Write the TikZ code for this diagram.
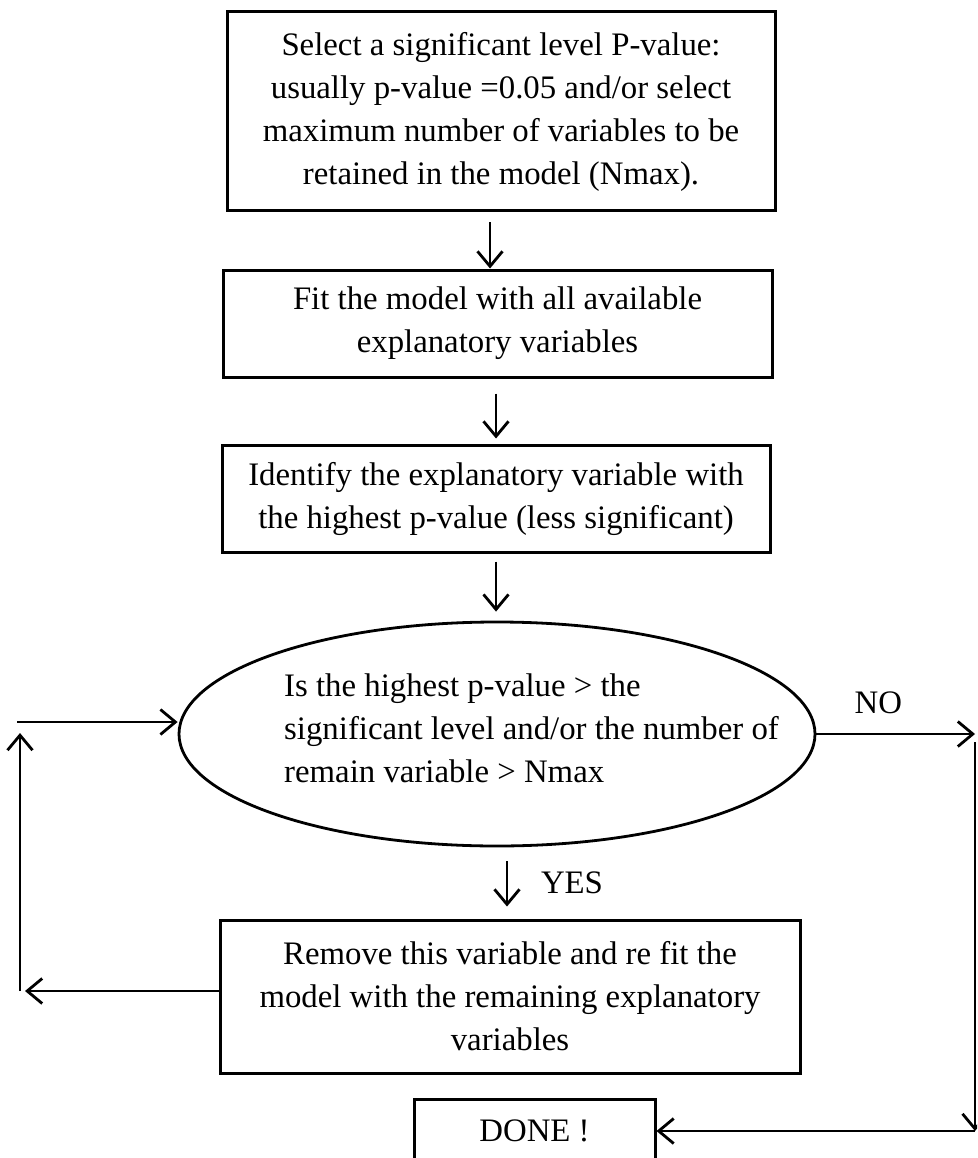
\documentclass[tikz,border=0pt]{standalone}
\usepackage{fontspec}
\setmainfont{Liberation Serif}
\usetikzlibrary{arrows.meta,shapes.geometric}
\tikzset{
  blk/.style={draw,line width=3pt,inner sep=0pt,align=center},
  arr/.style={line width=2.8pt,-{Straight Barb[length=15pt,width=25pt,line width=2.8pt]}},
}
\begin{document}
\begin{tikzpicture}[x=1pt,y=-1pt,font=\fontsize{32.8}{43}\selectfont]
  \useasboundingbox (0,0) rectangle (977,1158);
  \clip (0,0) rectangle (977,1158);

  \node[blk,minimum width=548pt,minimum height=199pt] (b1) at (501,111.5)
    {Select a significant level P-value:\\ usually p-value =0.05 and/or select\\
     maximum number of variables to be\\ retained in the model (Nmax).};
  \node[blk,minimum width=549pt,minimum height=107pt] (b2) at (497.5,323.5)
    {Fit the model with all available\\ explanatory variables};
  \node[blk,minimum width=548pt,minimum height=107pt] (b3) at (496,498.5)
    {Identify the explanatory variable with\\ the highest p-value (less significant)};
  \node[ellipse,draw,line width=2.8pt,inner sep=0pt,minimum width=636pt,minimum height=224pt] (ell) at (497,734) {};
  \node[align=left,inner sep=0pt] (elltext) at (531.5,728)
    {Is the highest p-value > the\\ significant level and/or the number of\\ remain variable > Nmax};
  \node[blk,minimum width=580pt,minimum height=153pt] (b4) at (510,996.5)
    {Remove this variable and re fit the\\ model with the remaining explanatory\\ variables};
  \node[blk,minimum width=241pt,minimum height=64pt] (done) at (534.5,1131) {DONE !};

  % main chain
  \draw[arr,shorten <=10pt] ([xshift=-11pt]b1.south) -- ([xshift=-11pt]b1.south |- b2.north);
  \draw[arr,shorten <=15pt,shorten >=5pt] (b3.north |- b2.south) -- (b3.north);
  \draw[arr,shorten <=8pt,shorten >=9pt] (b3.south) -- (b3.south |- ell.north);
  \draw[arr,shorten <=14pt,shorten >=12pt] ([xshift=10pt]ell.south) -- ([xshift=-3pt]b4.north)
    node[midway,xshift=65pt] {YES};

  % loop back
  \coordinate (lb) at (20,991);
  \coordinate (lt) at (20,733);
  \coordinate (lin) at (17,722);
  \draw[arr,shorten >=5pt] (b4.west |- lb) -- (lb);
  \draw[arr] (lb) -- (lt);
  \draw[arr] (lin) -- (lin -| ell.west);

  % exit
  \coordinate (rtop) at (975,742);
  \coordinate (rb) at (975,1131);
  \draw[arr] (ell.east) -- (ell.east -| rb) node[pos=0.39,yshift=31pt] {NO};
  \draw[arr] (rtop) -- (rb);
  \draw[arr] (rb) -- (done.east);
\end{tikzpicture}
\end{document}
